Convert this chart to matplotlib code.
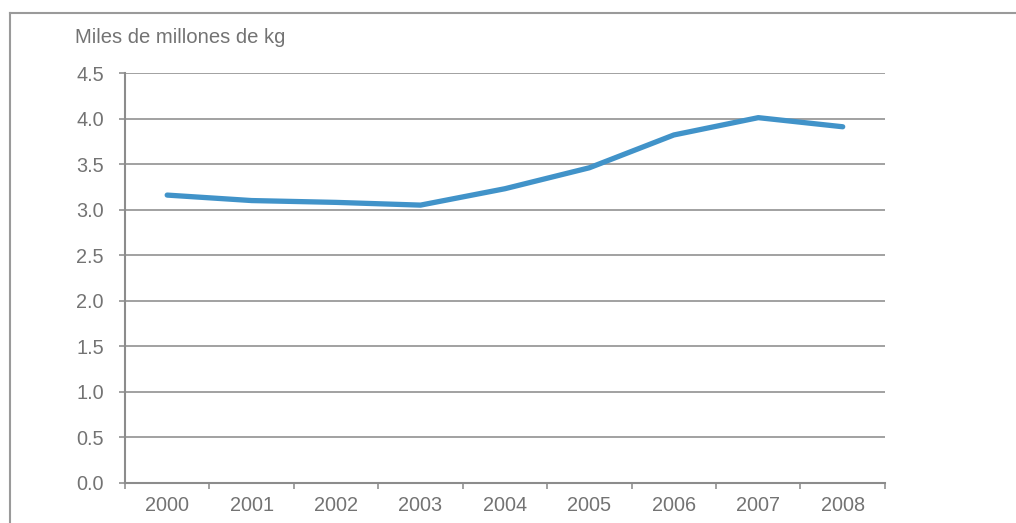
import matplotlib.pyplot as plt
from matplotlib.lines import Line2D
import numpy as np

plt.rcParams['font.family'] = ['Liberation Sans', 'DejaVu Sans']

# producción anual, miles de millones de kg
years = ['2000', '2001', '2002', '2003', '2004', '2005', '2006', '2007', '2008']
values = [3.16, 3.10, 3.08, 3.05, 3.23, 3.46, 3.82, 4.01, 3.91]
yticks = [0.0, 0.5, 1.0, 1.5, 2.0, 2.5, 3.0, 3.5, 4.0, 4.5]

gray_txt = '#737373'
gray_line = '#9a9a9a'

fig = plt.figure(figsize=(10.16, 5.23), dpi=100)
ax = fig.add_axes([0.123, 0.0765, 0.748, 0.7839])

x = np.arange(len(years))
ax.plot(x, values, color='#4193c9', linewidth=3.8, solid_capstyle='round', solid_joinstyle='round', zorder=3)

ax.set_xlim(-0.5, len(years) - 0.5)
ax.set_ylim(0, 4.5)
ax.set_yticks(yticks)
ax.set_yticklabels([f'{v:.1f}' for v in yticks])
ax.yaxis.grid(True, color=gray_line, linewidth=1.3)
ax.set_axisbelow(True)

# categorías entre marcas
ax.set_xticks(np.arange(len(years) + 1) - 0.5)
ax.set_xticklabels([])
ax.set_xticks(x, minor=True)
ax.set_xticklabels(years, minor=True)
ax.tick_params(axis='x', which='minor', length=0, pad=9.5)
ax.tick_params(axis='x', which='major', length=4.3, width=1.3, color=gray_line)
ax.tick_params(axis='y', length=4.3, width=1.3, color=gray_line, pad=11)
ax.tick_params(axis='both', which='both', labelsize=14.3, labelcolor=gray_txt)

for s in ['top', 'right']:
    ax.spines[s].set_visible(False)
for s in ['left', 'bottom']:
    ax.spines[s].set_color('#8c8c8c')
    ax.spines[s].set_linewidth(1.5)

fig.text(75 / 1016, 1 - 43 / 523, 'Miles de millones de kg', fontsize=14.6, color=gray_txt, va='baseline')

# marco exterior: solo arriba e izquierda
fig.add_artist(Line2D([10 / 1016, 1.0], [1 - 13 / 523] * 2, transform=fig.transFigure, color=gray_line, linewidth=1.5))
fig.add_artist(Line2D([10 / 1016] * 2, [0, 1 - 13 / 523], transform=fig.transFigure, color=gray_line, linewidth=1.5))

fig.savefig('out.png', dpi=100)
